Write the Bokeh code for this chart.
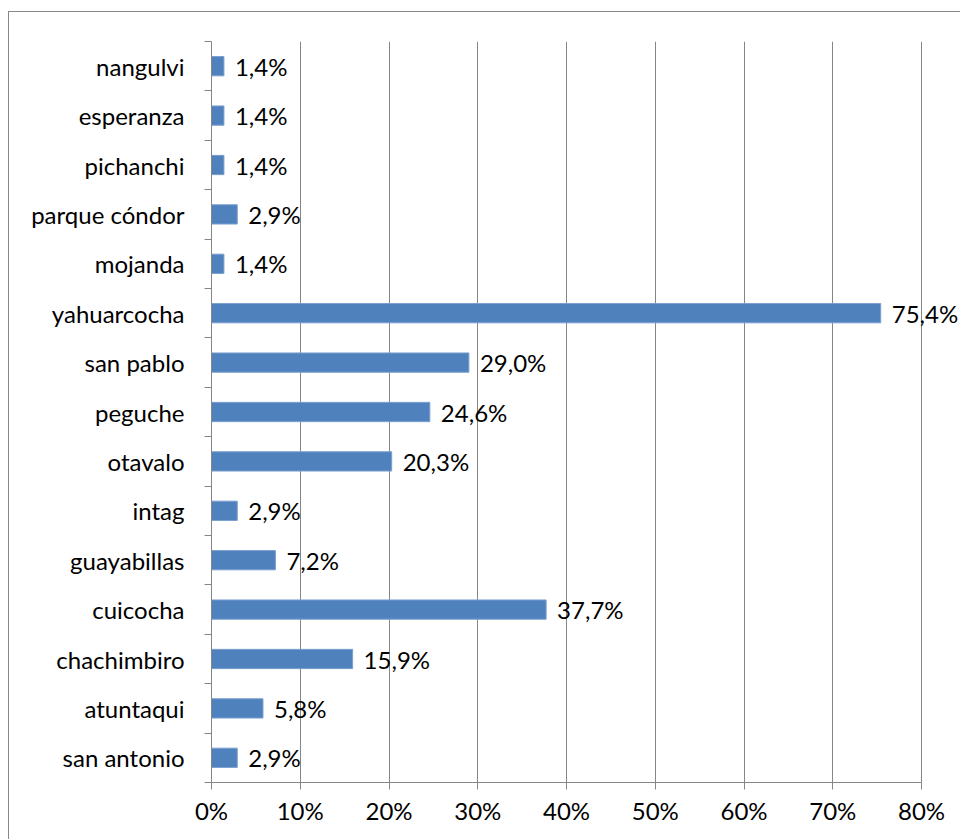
from bokeh.plotting import figure
from bokeh.models import ColumnDataSource, FixedTicker, Range1d, PrintfTickFormatter
from bokeh.core.properties import value
from bokeh.embed import file_html
from bokeh.resources import INLINE

categories = ["san antonio", "atuntaqui", "chachimbiro", "cuicocha", "guayabillas",
              "intag", "otavalo", "peguche", "san pablo", "yahuarcocha",
              "mojanda", "parque cóndor", "pichanchi", "esperanza", "nangulvi"]
values = [2.9, 5.8, 15.9, 37.7, 7.2, 2.9, 20.3, 24.6, 29.0, 75.4, 1.4, 2.9, 1.4, 1.4, 1.4]
x_ticks = [0, 10, 20, 30, 40, 50, 60, 70, 80]

FONT = "Lato"
FS = "24px"
GRAY = "#868686"

pos = [i + 0.5 for i in range(len(categories))]
labels = [f"{v:.1f}%".replace(".", ",") for v in values]
src = ColumnDataSource(dict(cat=categories, val=values, pos=pos, lab=labels))

p = figure(width=952, height=828, output_backend="svg", toolbar_location=None,
           x_range=Range1d(0, 80 * 751 / 711), y_range=Range1d(0, len(categories)),
           min_border_left=202, min_border_right=0, min_border_top=29, min_border_bottom=58)
p.margin = (11, 0, 0, 8)
p.styles = {"border-left": "1px solid #878787", "border-top": "1px solid #878787"}
p.outline_line_color = None
p.background_fill_color = "white"
p.border_fill_color = "white"

p.hbar(y="pos", right="val", left=0, height=0.39, source=src,
       fill_color="#4F81BD", line_color="#7A9FCF", line_width=1)
p.text(x="val", y="pos", text="lab", source=src, x_offset=11,
       text_baseline="middle", text_align="left",
       text_font=value(FONT), text_font_size=FS, text_color="black")

# x axis
xa = p.xaxis[0]
xa.ticker = FixedTicker(ticks=x_ticks)
xa.formatter = PrintfTickFormatter(format="%d%%")
xa.bounds = (0, 80)
xa.axis_line_color = GRAY
xa.major_tick_line_color = GRAY
xa.major_tick_out = 7
xa.major_tick_in = 0
xa.minor_tick_line_color = None
xa.major_label_text_font = FONT
xa.major_label_text_font_size = FS
xa.major_label_text_color = "black"
xa.major_label_standoff = 6

# y axis
ya = p.yaxis[0]
ya.ticker = FixedTicker(ticks=pos, minor_ticks=list(range(len(categories) + 1)))
ya.major_label_overrides = {pp: c for pp, c in zip(pos, categories)}
ya.axis_line_color = GRAY
ya.major_tick_line_color = None
ya.major_tick_out = 0
ya.major_tick_in = 0
ya.minor_tick_line_color = GRAY
ya.minor_tick_out = 7
ya.minor_tick_in = 0
ya.major_label_text_font = FONT
ya.major_label_text_font_size = FS
ya.major_label_text_color = "black"
ya.major_label_standoff = 20

p.xgrid.ticker = FixedTicker(ticks=x_ticks)
p.xgrid.bounds = (0, 80)
p.xgrid.grid_line_color = GRAY
p.ygrid.grid_line_color = None

open("out.html", "w").write(file_html(p, INLINE))
